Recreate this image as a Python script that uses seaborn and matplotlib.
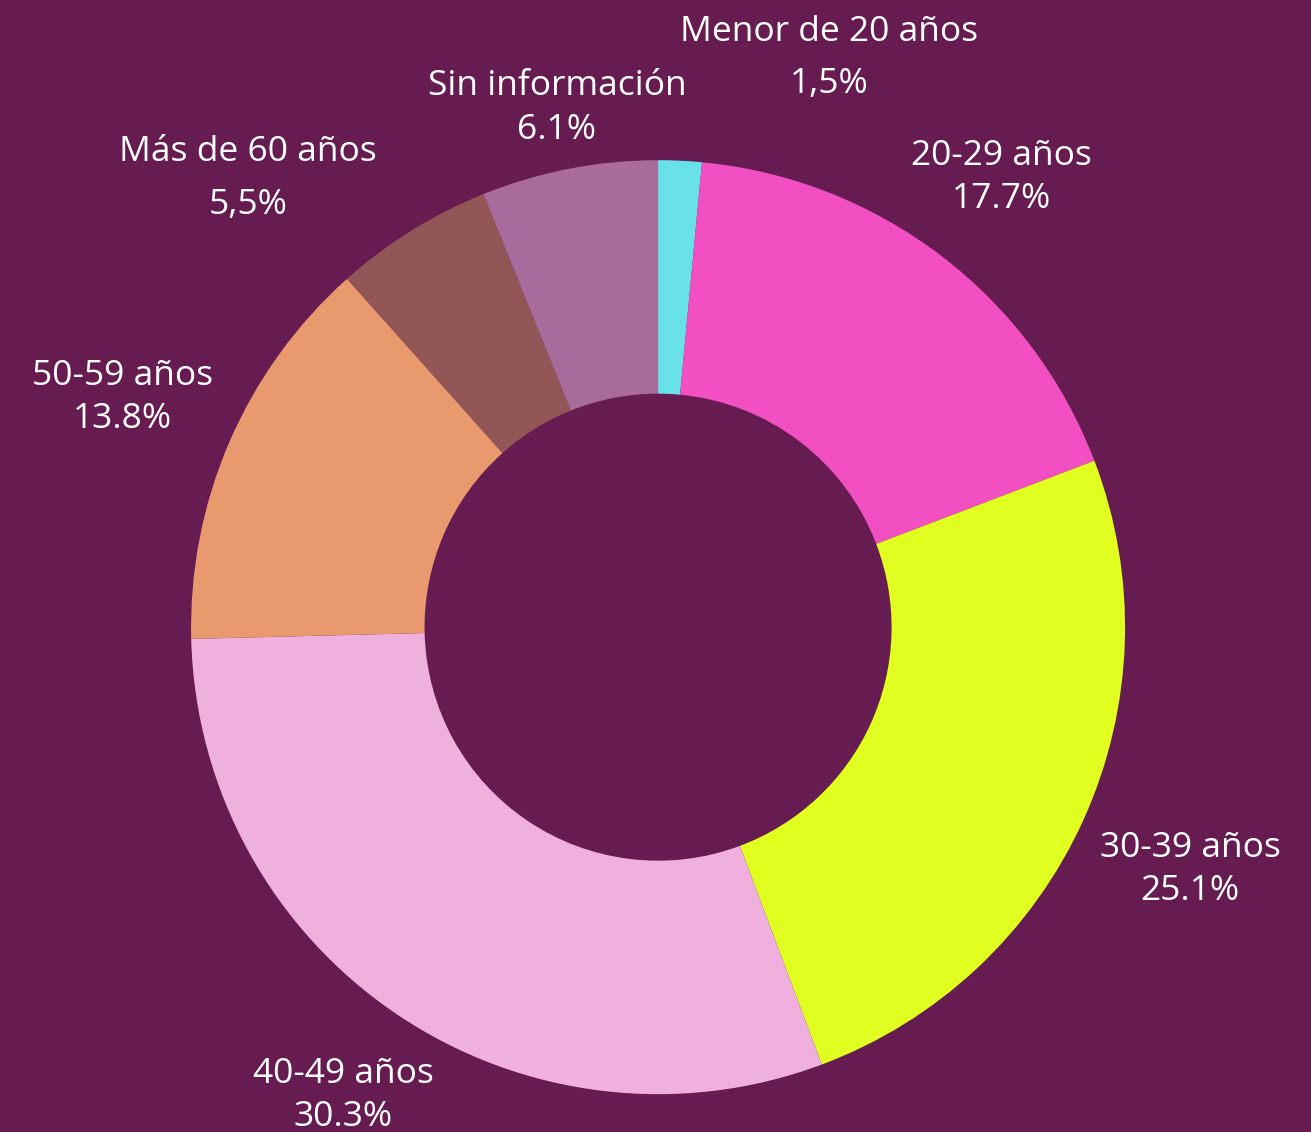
import numpy as np
import matplotlib
matplotlib.use("Agg")
import matplotlib.pyplot as plt
import seaborn as sns

# ---- data ----
categories = ["Menor de 20 años", "20-29 años", "30-39 años", "40-49 años",
              "50-59 años", "Más de 60 años", "Sin información"]
values = [1.5, 17.7, 25.1, 30.3, 13.8, 5.5, 6.1]
value_labels = ["1,5%", "17.7%", "25.1%", "30.3%", "13.8%", "5,5%", "6.1%"]

# ---- style ----
colors = ["#68E2E8", "#F250C2", "#E0FF20", "#F0B0DE", "#E8996E", "#935656", "#A86B9C"]
bg = "#661C50"
label_dist = [1.277, 1.216, 1.25, 1.205, 1.25, 1.305, 1.137]
angle_shift = [-14.0, 0, 0, 0, 0, 10.4, 0]
line_gap = [0.056, 0.046, 0.046, 0.046, 0.046, 0.057, 0.047]
y_nudge = -0.005

sns.set_theme(style="white")
plt.rcParams["font.family"] = ["Open Sans", "DejaVu Sans"]

fig = plt.figure(figsize=(13.11, 11.32), dpi=100, facecolor=bg)
ax = fig.add_axes([0, 0, 1, 1])
ax.set_facecolor(bg)

wedges, _ = ax.pie(values, colors=colors, startangle=90, counterclock=False,
                   radius=1.0, wedgeprops=dict(width=0.5, linewidth=0, edgecolor="none"))

for i, w in enumerate(wedges):
    ang = np.deg2rad((w.theta1 + w.theta2) / 2 + angle_shift[i])
    x = label_dist[i] * np.cos(ang)
    y = label_dist[i] * np.sin(ang) + y_nudge
    ax.text(x, y + line_gap[i], categories[i], ha="center", va="center",
            color="white", fontsize=25.5)
    ax.text(x, y - line_gap[i], value_labels[i], ha="center", va="center",
            color="white", fontsize=25.5)

ax.set_xlim(-1.409, 1.398)
ax.set_ylim(-1.081, 1.343)
ax.set_aspect("equal")
ax.axis("off")

fig.savefig("out.png", dpi=100, facecolor=bg)
